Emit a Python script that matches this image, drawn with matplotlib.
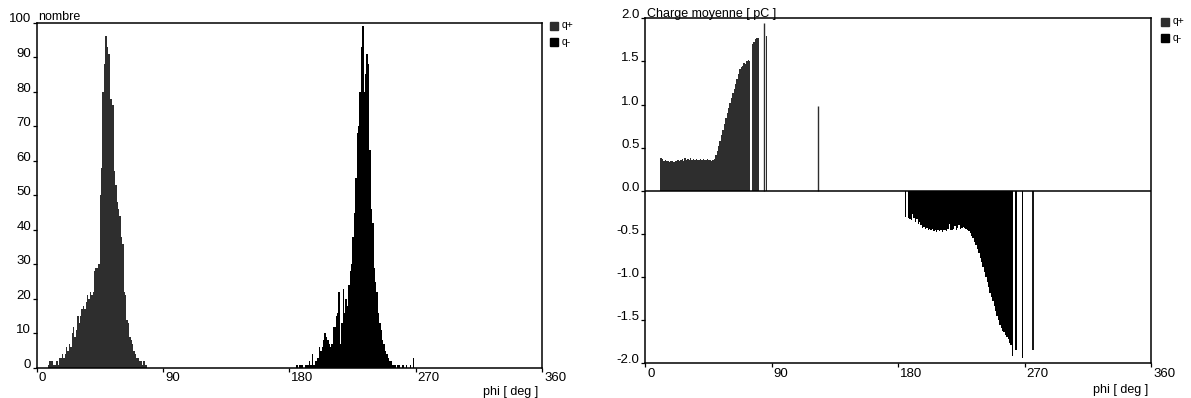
import matplotlib
matplotlib.use('Agg')
import matplotlib.pyplot as plt
from matplotlib.lines import Line2D

plt.rcParams['font.family'] = ['Liberation Sans', 'DejaVu Sans']

# ---------------- data ----------------
# left panel: number of discharges per 1-degree phase bin
count_pos_phi = list(range(8, 79))
count_pos = [1, 2, 2, 2, 1, 1, 2, 1, 3, 3,
             4, 3, 4, 6, 5, 7, 6, 10, 12, 9,
             11, 15, 13, 15, 17, 18, 17, 19, 21, 20,
             22, 21, 22, 28, 29, 29, 30, 50, 58, 80,
             88, 96, 93, 91, 78, 78, 76, 57, 53, 48,
             46, 44, 38, 36, 22, 21, 14, 13, 9, 8,
             7, 5, 4, 3, 3, 2, 2, 1, 2, 1, 1]
count_neg_phi = list(range(185, 269))
count_neg = [1, 0, 1, 1, 1, 0, 1, 1, 1, 2,
             1, 4, 1, 2, 2, 3, 6, 5, 6, 8,
             10, 9, 8, 7, 6, 7, 12, 12, 15, 16,
             22, 7, 13, 23, 16, 20, 18, 24, 28, 30,
             38, 45, 55, 68, 70, 80, 93, 99, 80, 85,
             91, 88, 63, 46, 42, 29, 25, 22, 16, 13,
             11, 8, 7, 5, 4, 3, 2, 2, 1, 1,
             1, 0, 1, 1, 0, 1, 1, 0, 1, 0,
             0, 1, 0, 3]

# right panel: mean charge [pC] per 1-degree phase bin
charge_pos_phi = list(range(11, 81)) + [86]
charge_pos = [0.38, 0.37, 0.34, 0.36, 0.34, 0.35, 0.33, 0.35, 0.34, 0.33,
              0.34, 0.35, 0.36, 0.35, 0.36, 0.37, 0.35, 0.38, 0.36, 0.37,
              0.36, 0.38, 0.36, 0.37, 0.36, 0.37, 0.36, 0.36, 0.37, 0.36,
              0.37, 0.36, 0.36, 0.37, 0.36, 0.36, 0.35, 0.36, 0.37, 0.41,
              0.46, 0.52, 0.58, 0.65, 0.71, 0.77, 0.84, 0.90, 0.96, 1.02,
              1.08, 1.13, 1.18, 1.24, 1.30, 1.36, 1.41, 1.44, 1.45, 1.48,
              1.47, 1.50, 1.52, 1.51, 0.0, 1.70, 1.72, 1.76, 1.77, 1.77,
              1.79]
spike_pos_phi = [84.8, 123.3]
spike_pos = [1.95, 0.98]

charge_neg_phi = list(range(185, 269))
charge_neg = [-0.30, 0.0, -0.31, -0.33, -0.34, -0.27, -0.31, -0.36, -0.33, -0.38,
              -0.36, -0.40, -0.43, -0.42, -0.44, -0.43, -0.45, -0.44, -0.46, -0.44,
              -0.47, -0.45, -0.48, -0.46, -0.47, -0.45, -0.48, -0.46, -0.45, -0.47,
              -0.44, -0.39, -0.45, -0.46, -0.44, -0.41, -0.45, -0.43, -0.40, -0.44,
              -0.43, -0.42, -0.43, -0.44, -0.45, -0.47, -0.49, -0.52, -0.55, -0.59,
              -0.63, -0.67, -0.72, -0.78, -0.83, -0.88, -0.94, -1.00, -1.06, -1.12,
              -1.18, -1.23, -1.28, -1.33, -1.39, -1.45, -1.50, -1.56, -1.59, -1.62,
              -1.64, -1.67, -1.69, -1.72, -1.76, -1.79, -1.91, 0.0, -1.85, -1.85,
              0.0, 0.0, 0.0, -1.94]
spike_neg_phi = [275.8]
spike_neg = [-1.85]

x_ticks = [0, 90, 180, 270, 360]
count_ticks = [0, 10, 20, 30, 40, 50, 60, 70, 80, 90, 100]
charge_ticks = [-2.0, -1.5, -1.0, -0.5, 0.0, 0.5, 1.0, 1.5, 2.0]
legend_labels = ['q+', 'q-']

# ---------------- layout ----------------
W, H = 1191, 398
fig = plt.figure(figsize=(W / 100, H / 100), dpi=100)
fig.patch.set_facecolor('white')


def fx(x):
    return x / W


def fy(y):
    return 1 - y / H


POS_COLOR = '#2e2e2e'
NEG_COLOR = '#000000'
FS = 9
TFS = 9.5


def style_axes(ax, yticks, fmt):
    for s in ax.spines.values():
        s.set_linewidth(1.1)
        s.set_color('black')
    ax.set_xlim(0, 360)
    ax.set_xticks(x_ticks)
    ax.set_xticklabels([])
    ax.set_yticks(yticks)
    ax.set_yticklabels([])
    ax.tick_params(axis='both', direction='out', length=3, width=0.9, colors='black')
    for v in yticks:
        ax.annotate(fmt(v), xy=(0, v), xycoords=('axes fraction', 'data'),
                    xytext=(-4.0, 0), textcoords='offset points',
                    ha='right', va='baseline', fontsize=TFS)
    for v in x_ticks:
        ax.annotate(str(v), xy=(v, 0), xycoords=('data', 'axes fraction'),
                    xytext=(1.5, -3.2), textcoords='offset points',
                    ha='left', va='top', fontsize=TFS)


# ---- left panel ----
ax1 = fig.add_axes([fx(36.5), fy(368), (542 - 36.5) / W, (368 - 22.5) / H])
ax1.bar(count_pos_phi, count_pos, width=1.0, align='edge', color=POS_COLOR, linewidth=0)
ax1.bar(count_neg_phi, count_neg, width=1.0, align='edge', color=NEG_COLOR, linewidth=0)
ax1.set_ylim(0, 100)
style_axes(ax1, count_ticks, lambda v: str(v))
fig.text(fx(38), fy(20), 'nombre', fontsize=FS, ha='left', va='baseline')
fig.text(fx(538), fy(395), 'phi [ deg ]', fontsize=FS, ha='right', va='baseline')

# ---- right panel ----
ax2 = fig.add_axes([fx(645), fy(363.3), (1151 - 645) / W, (363.3 - 18.3) / H])
ax2.bar(charge_pos_phi, charge_pos, width=1.0, align='edge', color=POS_COLOR, linewidth=0)
ax2.vlines(spike_pos_phi, 0, spike_pos, color=POS_COLOR, linewidth=1.0)
ax2.bar(charge_neg_phi, charge_neg, width=1.0, align='edge', color=NEG_COLOR, linewidth=0)
ax2.vlines(spike_neg_phi, 0, spike_neg, color=NEG_COLOR, linewidth=1.3)
ax2.axhline(0, color='black', linewidth=1.1)
ax2.set_ylim(-2.0, 2.0)
style_axes(ax2, charge_ticks, lambda v: f'{v:.1f}')
fig.text(fx(647), fy(17), 'Charge moyenne [ pC ]', fontsize=FS, ha='left', va='baseline')
fig.text(fx(1148), fy(393), 'phi [ deg ]', fontsize=FS, ha='right', va='baseline')

# ---- legends ----
for (mx, tx, y0, dy) in [(554, 562, 25.5, 16.5), (1164.5, 1173, 21.5, 16.5)]:
    for i, (lab, col) in enumerate(zip(legend_labels, [POS_COLOR, NEG_COLOR])):
        yy = y0 + i * dy
        fig.add_artist(Line2D([fx(mx)], [fy(yy)], marker='s', markersize=5.5,
                              color=col, linestyle='none', transform=fig.transFigure))
        fig.text(fx(tx), fy(yy), lab, fontsize=7.5, ha='left', va='center')

fig.savefig('out.png', dpi=100, facecolor='white')
